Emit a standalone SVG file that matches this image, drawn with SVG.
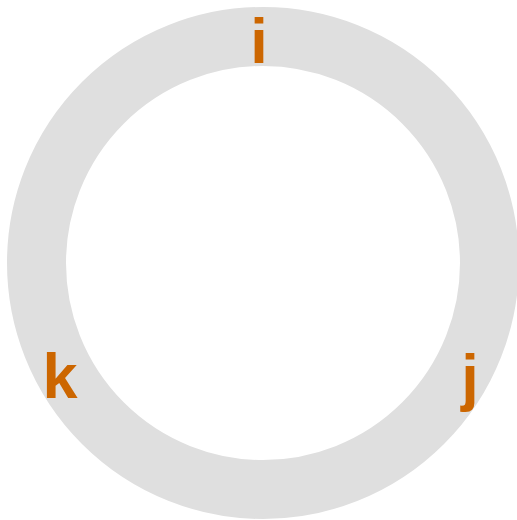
<svg xmlns="http://www.w3.org/2000/svg" width="517" height="520" viewBox="0 0 517 520">
<style>
.lbl{font-family:"Liberation Sans",Arial,sans-serif;font-weight:bold;font-size:63px;fill:#cc6600;text-anchor:middle}
</style>
<rect width="517" height="520" fill="#ffffff"/>
<g id="ring">
<circle cx="263" cy="263" r="226.5" fill="none" stroke="#dfdfdf" stroke-width="59"/>
</g>
<g id="connectors"></g>
<g id="node-i"><text class="lbl" x="259" y="63">i</text></g>
<g id="node-j"><text class="lbl" x="470" y="399">j</text></g>
<g id="node-k"><text class="lbl" x="60" y="398">k</text></g>
</svg>
